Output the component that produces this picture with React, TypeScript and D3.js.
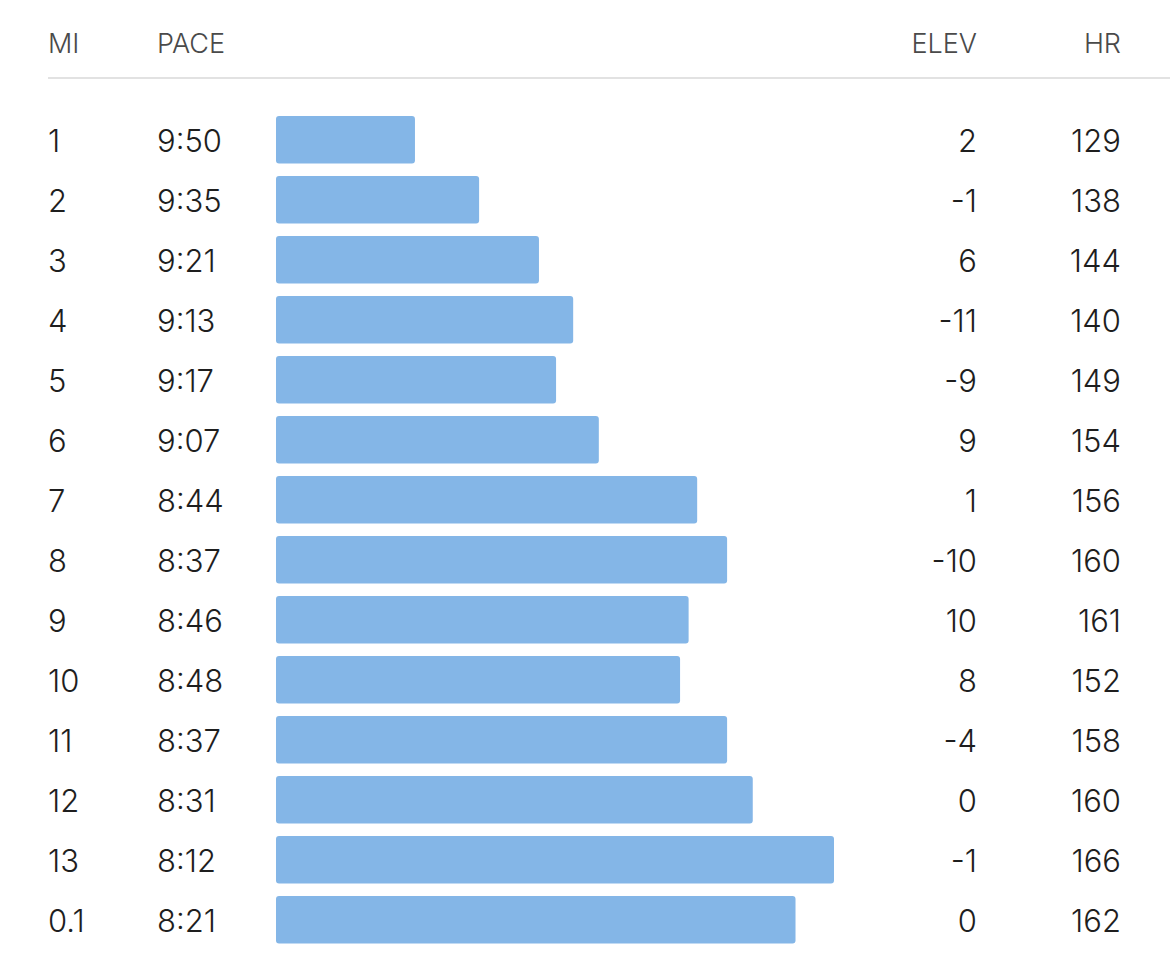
import React from "react";
import * as d3 from "d3";

const miles = ["1", "2", "3", "4", "5", "6", "7", "8", "9", "10", "11", "12", "13", "0.1"];
const paces = ["9:50", "9:35", "9:21", "9:13", "9:17", "9:07", "8:44", "8:37", "8:46", "8:48", "8:37", "8:31", "8:12", "8:21"];
const elevs = [2, -1, 6, -11, -9, 9, 1, -10, 10, 8, -4, 0, -1, 0];
const hrs = [129, 138, 144, 140, 149, 154, 156, 160, 161, 152, 158, 160, 166, 162];
const headers = ["MI", "PACE", "ELEV", "HR"];

const toSec = (p: string) => {
  const [m, s] = p.split(":").map(Number);
  return m * 60 + s;
};

const W = 1170;
const H = 961;
const FONT = "Inter, 'Noto Sans', sans-serif";

export default function App() {
  const y = d3.scaleBand<string>().domain(miles).range([110, 950]).paddingInner(0.2).paddingOuter(0.1);
  const x = d3.scaleLinear().domain([622.5, 492]).range([276, 834]);
  const rows = miles.map((m, i) => ({ m, pace: paces[i], sec: toSec(paces[i]), elev: elevs[i], hr: hrs[i] }));
  return (
    <div style={{ position: "absolute", left: 0, top: 0 }}>
      <svg width={W} height={H} style={{ display: "block" }}>
        <rect width={W} height={H} fill="#fff" />
        <g fontFamily={FONT} fontSize={27} fontWeight={300} fill="#4a4a4a">
          <text x={48} y={52.5}>{headers[0]}</text>
          <text x={157} y={52.5}>{headers[1]}</text>
          <text x={977} y={52.5} textAnchor="end">{headers[2]}</text>
          <text x={1121} y={52.5} textAnchor="end">{headers[3]}</text>
        </g>
        <line x1={48} x2={W} y1={78} y2={78} stroke="#d9d9d9" strokeWidth={1.5} />
        {rows.map((r) => {
          const by = y(r.m)!;
          const cy = by + y.bandwidth() / 2;
          const base = cy + 11.5;
          return (
            <g key={r.m} fontFamily={FONT} fontSize={31} fontWeight={300} fill="#1e1e1e">
              <rect x={x.range()[0]} y={by} width={x(r.sec) - x.range()[0]} height={y.bandwidth() - 0.5} rx={3} fill="#84B6E7" />
              <text x={48} y={base}>{r.m}</text>
              <text x={157} y={base}>{r.pace}</text>
              <text x={977} y={base} textAnchor="end">{r.elev}</text>
              <text x={1121} y={base} textAnchor="end">{r.hr}</text>
            </g>
          );
        })}
      </svg>
    </div>
  );
}
